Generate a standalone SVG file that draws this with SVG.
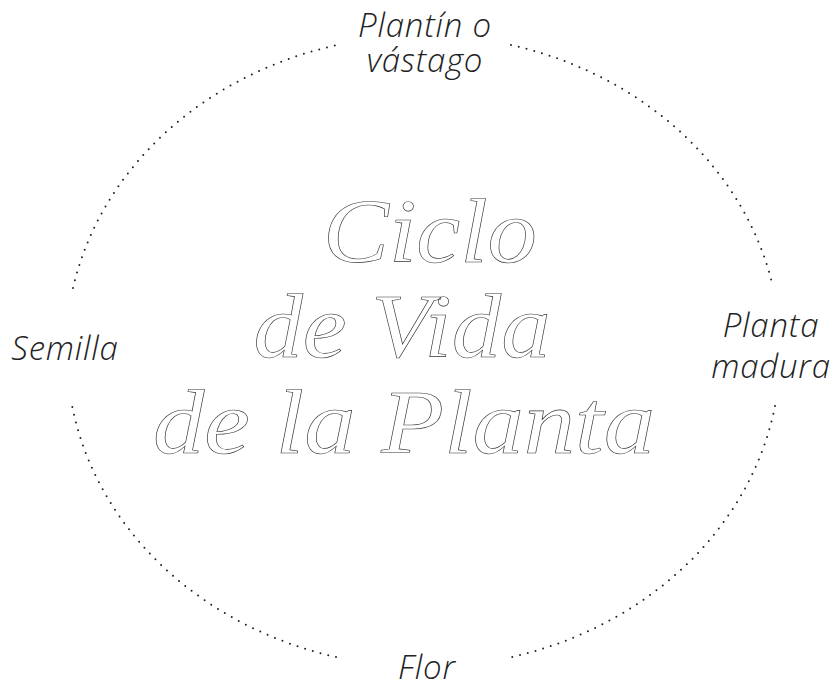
<svg xmlns="http://www.w3.org/2000/svg" width="836" height="688" viewBox="0 0 836 688">
<style>
.lbl{font-family:"Open Sans","Noto Sans",sans-serif;font-style:italic;font-weight:300;font-size:33px;letter-spacing:0.8px;fill:#222;text-anchor:middle}
.ttl{font-family:"Liberation Serif",serif;font-style:italic;font-size:90px;fill:none;stroke:#333;stroke-width:0.6;text-anchor:middle}
.dot{fill:none;stroke:#222;stroke-width:2;stroke-linecap:round;stroke-dasharray:0 8}
</style>
<rect width="836" height="688" fill="#fff"/>
<g id="connectors">
<path class="dot" d="M73 288 A358 315 0 0 1 342 44"/>
<path class="dot" d="M511 45 A358 315 0 0 1 773 287"/>
<path class="dot" d="M775 406 A358 315 0 0 1 512 657"/>
<path class="dot" d="M336 657 A358 315 0 0 1 71 400"/>
</g>
<g id="title">
<text class="ttl" x="430" y="262" textLength="214" lengthAdjust="spacingAndGlyphs">Ciclo</text>
<text class="ttl" x="402" y="357" textLength="297" lengthAdjust="spacingAndGlyphs">de Vida</text>
<text class="ttl" x="404" y="453" textLength="502" lengthAdjust="spacingAndGlyphs">de la Planta</text>
</g>
<g id="node-plantin"><text class="lbl" x="425" y="37">Plantín o<tspan x="425" y="72">vástago</tspan></text></g>
<g id="node-planta"><text class="lbl" x="771" y="337">Planta<tspan x="771" y="378">madura</tspan></text></g>
<g id="node-flor"><text class="lbl" x="427" y="679">Flor</text></g>
<g id="node-semilla"><text class="lbl" x="65" y="360">Semilla</text></g>
</svg>
